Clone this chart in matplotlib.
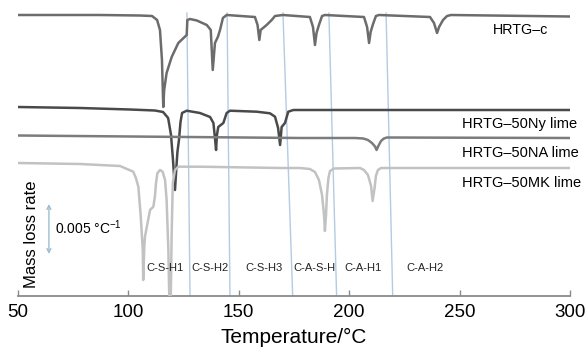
import matplotlib
matplotlib.use('Agg')
import matplotlib.pyplot as plt

plt.rcParams['font.family'] = ['Liberation Sans', 'DejaVu Sans']
plt.rcParams['mathtext.fontset'] = 'custom'
plt.rcParams['mathtext.rm'] = 'Liberation Sans'

# DTG curves, temperature in degC, rate in 1/degC (0 = own baseline)
c_temp = [50, 87, 105, 110.7, 113.0, 114.3, 115.2, 115.8, 116.2, 117.3, 119.6, 122.6, 126.4,
          126.7, 127.9, 131, 135.5, 137.3, 138.2, 139.2, 140.5, 141.5, 142.8, 144.5,
          157.3, 158.5, 159.3, 159.9, 162.6, 164.9, 166.4, 170.0,
          182.2, 183.6, 184.5, 185.2, 186.3, 187.7, 189.0,
          206.7, 208.1, 209.0, 209.7, 210.8, 212.1, 213.5,
          236.6, 238.4, 239.8, 240.7, 242.5, 244.3, 246.1, 300]
c_rate = [0, 0, -0.00005, -0.0001, -0.0005, -0.0015, -0.0045, -0.0092, -0.0075, -0.0058, -0.0042,
          -0.0028, -0.0020, -0.0005, -0.0004, -0.00055, -0.0010, -0.0015, -0.0055, -0.0028,
          -0.0022, -0.0015, -0.0003, 0,
          -0.0002, -0.001, -0.0025, -0.0015, -0.0010, -0.0005, -0.0001, 0,
          -0.0002, -0.0012, -0.003, -0.0018, -0.001, -0.0001, 0,
          -0.0002, -0.0012, -0.0028, -0.0017, -0.0009, -0.0001, 0,
          -0.0002, -0.0008, -0.0018, -0.0012, -0.0005, -0.0001, 0, -0.00015]

ny_temp = [50, 78.1, 100.7, 112.0, 115.7, 118.0, 119.3, 120.2, 121.1, 121.8, 122.2, 122.9,
           123.6, 124.3, 126.4, 132.4, 137.0, 138.5, 139.2, 139.7, 140.1, 140.7, 143.0,
           144.5, 146.0, 158.1, 164.1, 166.4, 167.8, 168.7, 169.4, 170.9, 172.4, 174.7,
           200.4, 300]
ny_rate = [0, -0.0001, -0.00025, -0.00035, -0.0005, -0.0011, -0.0028, -0.0053, -0.0083,
           -0.0058, -0.0045, -0.0033, -0.0015, -0.0006, -0.00037, -0.0006, -0.001, -0.0016,
           -0.0031, -0.0043, -0.0028, -0.002, -0.0016, -0.0006, -0.00037, -0.00047,
           -0.00063, -0.00097, -0.0021, -0.0038, -0.002, -0.0016, -0.00047, -0.0003,
           -0.0003, -0.0003]

na_temp = [50, 177.7, 202.6, 206.4, 208.5, 210.3, 211.7, 212.4, 213.2, 214.4, 215.7, 217.1, 300]
na_rate = [0, -0.00025, -0.00025, -0.0003, -0.00045, -0.00075, -0.0011, -0.00145, -0.00105,
           -0.00055, -0.0003, -0.0002, -0.00025]

mk_temp = [50, 78.1, 96.2, 102.2, 103.4, 104.5, 105.6, 106.5, 106.7, 107.2, 107.5, 109.8,
           111.3, 112.0, 112.5, 113.1, 114.3, 115.5, 116.6, 117.3, 118.1, 118.5, 119.2,
           119.6, 120.1, 121.1, 122.6, 132.4, 168.7, 177.7, 182.2, 184.5, 186.3, 187.7,
           188.6, 189.0, 189.5, 189.9, 190.6, 191.3, 193.1, 204.9, 206.7, 208.5, 209.9,
           210.6, 211.5, 212.1, 213.0, 214.4, 300]
mk_rate = [0, -0.0001, -0.0003, -0.00087, -0.0015, -0.00237, -0.00537, -0.0087, -0.0117,
           -0.00837, -0.00737, -0.0047, -0.00437, -0.00337, -0.00203, -0.00103, -0.0007,
           -0.00087, -0.0017, -0.0037, -0.0087, -0.0133, -0.0133, -0.007, -0.002, -0.0007,
           -0.00037, -0.00037, -0.0005, -0.0005, -0.0006, -0.0009, -0.0017, -0.0032,
           -0.0052, -0.0068, -0.0052, -0.0032, -0.0015, -0.0008, -0.00055, -0.0005,
           -0.0007, -0.0012, -0.0023, -0.0038, -0.0025, -0.0013, -0.0007, -0.0005, -0.0005]

names = ['HRTG–c', 'HRTG–50Ny lime', 'HRTG–50NA lime', 'HRTG–50MK lime']
offsets = [0.0281, 0.0189, 0.01605, 0.0133]
label_y = [0.0266, 0.0172, 0.0143, 0.0113]
colors = ['#6c6c6c', '#4a4a4a', '#7c7c7c', '#c2c2c2']

# phase boundaries (slightly slanted in the scan)
bound_top = [126.5, 144.7, 170.0, 190.8, 216.7]
bound_bot = [127.9, 146.0, 174.4, 194.3, 219.7]
phases = ['C-S-H1', 'C-S-H2', 'C-S-H3', 'C-A-S-H', 'C-A-H1', 'C-A-H2']
phase_x = [116.6, 137.0, 161.2, 184.1, 206.3, 234.3]

fig = plt.figure(figsize=(5.86, 3.48), dpi=100)
ax = fig.add_axes([18/586, 52/348, 552/586, 296/348])

for t, b in zip(bound_top, bound_bot):
    ax.plot([b, t], [0, 0.0283], color='#b4cbe3', lw=1.0, zorder=1)

curves = [(c_temp, c_rate), (ny_temp, ny_rate), (na_temp, na_rate), (mk_temp, mk_rate)]
for (t, r), off, col in zip(curves, offsets, colors):
    ax.plot(t, [off + v for v in r], color=col, lw=1.8, zorder=3)

ax.text(265.1, label_y[0], names[0], fontsize=10.3, va='center', ha='left')
for nm, yy in zip(names[1:], label_y[1:]):
    ax.text(251.1, yy, nm, fontsize=10.5, va='center', ha='left')

for p, x in zip(phases, phase_x):
    ax.text(x, 0.0028, p, fontsize=8, ha='center', va='center', color='#222222')

# scale bar
ax.annotate('', xy=(64.0, 0.0042), xytext=(64.0, 0.0092),
            arrowprops=dict(arrowstyle='<->', color='#9dbdd4', lw=1.0,
                            mutation_scale=7, shrinkA=0, shrinkB=0))
ax.text(66.8, 0.0068, '0.005 °C$^{−1}$', fontsize=10, va='center', ha='left')
ax.text(55.9, 0.0062, 'Mass loss rate', fontsize=12, rotation=90, va='center', ha='center')

ax.set_xlim(50, 300)
ax.set_ylim(0, 0.0296)
ax.set_xticks([50, 100, 150, 200, 250, 300])
ax.set_yticks([])
for s in ['top', 'right', 'left']:
    ax.spines[s].set_visible(False)
ax.spines['bottom'].set_color('#8a8a8a')
ax.spines['bottom'].set_linewidth(1.3)
ax.tick_params(axis='x', direction='in', length=4, width=1, color='#8a8a8a',
               labelsize=13.5, pad=6)
ax.set_xlabel('Temperature/°C', fontsize=15, labelpad=5)
ax.patch.set_alpha(0)

fig.savefig('out.png', dpi=100)
